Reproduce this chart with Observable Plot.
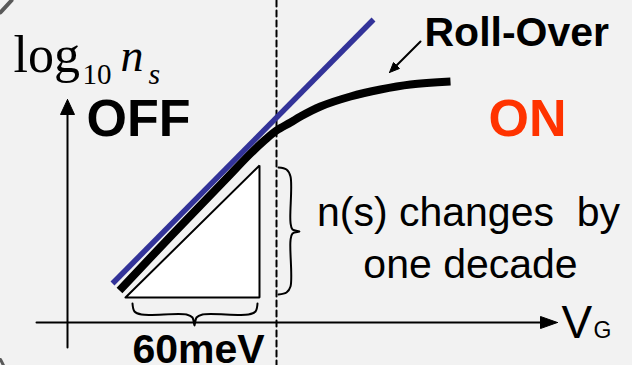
<!DOCTYPE html>
<html>
<head>
<meta charset="utf-8">
<script src="https://cdn.jsdelivr.net/npm/d3@7"></script>
<script src="https://cdn.jsdelivr.net/npm/@observablehq/plot@0.6"></script>
<style>
  html, body { margin: 0; padding: 0; background: #f2f2f2; }
  svg text { white-space: pre; }
</style>
</head>
<body>
<div id="chart"></div>
<script>
// ---- data (picture units: x to the right, y downward) ----
const idealX = [112, 373];            // ideal 60 mV/dec slope line (blue)
const idealY = [283, 19];
const realX = [119, 170, 224, 250, 265, 276, 290, 300, 320, 350, 380, 410, 450]; // real curve (black)
const realY = [290, 236, 180, 153, 139, 130, 122, 116, 106, 96, 89, 84, 81];
const triX = [125, 259, 259, 125];    // 60 meV / one decade triangle
const triY = [297, 297, 165, 297];
const dashX = [276, 276];             // threshold
const dashY = [0, 365];
const yAxisX = [67, 67], yAxisY = [347, 112];
const yHeadX = [67, 60, 74, 67], yHeadY = [99, 114, 114, 99];
const xAxisX = [36, 542], xAxisY = [322, 322];
const xHeadX = [557, 540, 540, 557], xHeadY = [322, 316, 328, 322];
const rollX = [420, 395], rollY = [41, 66];
const rollHeadX = [389, 399, 393, 389], rollHeadY = [72, 68, 62, 72];
const braceRX = [278, 286, 290, 290, 292, 299, 292, 290, 290, 286, 278];
const braceRY = [167, 169, 176, 222, 229, 231, 233, 240, 286, 292, 294];
const braceBX = [132, 134, 141, 186, 192, 194, 196, 202, 248, 255, 257];
const braceBY = [303, 311, 314, 314, 317, 325, 317, 314, 314, 311, 303];
const cornerTLX = [0, 11], cornerTLY = [12, 0];
const cornerBLX = [0, 3], cornerBLY = [359, 365];

const sansLabels = [
  {text: "OFF", x: 86, y: 135, size: 52, weight: "bold", color: "#000000", anchor: "start"},
  {text: "ON", x: 488, y: 135, size: 52, weight: "bold", color: "#ff3300", anchor: "start"},
  {text: "Roll-Over", x: 424, y: 45, size: 41, weight: "bold", color: "#000000", anchor: "start"},
  {text: "n(s) changes  by", x: 468, y: 225, size: 41, weight: "normal", color: "#000000", anchor: "middle"},
  {text: "one decade", x: 470, y: 277, size: 41, weight: "normal", color: "#000000", anchor: "middle"},
  {text: "60meV", x: 198, y: 362, size: 41, weight: "bold", color: "#000000", anchor: "middle"},
  {text: "V", x: 561, y: 337, size: 46, weight: "normal", color: "#000000", anchor: "start"},
  {text: "G", x: 593, y: 337, size: 23, weight: "normal", color: "#000000", anchor: "start"}
];
const serifLabels = [
  {text: "log", x: 13, y: 71, size: 52, style: "normal"},
  {text: "10", x: 82, y: 83, size: 29, style: "normal"},
  {text: "n", x: 120, y: 70, size: 46, style: "italic"},
  {text: "s", x: 148, y: 83, size: 30, style: "italic"}
];

const pts = (xs, ys) => xs.map((x, i) => ({x, y: ys[i]}));

const chart = Plot.plot({
  width: 632,
  height: 365,
  margin: 0,
  x: {domain: [0, 632], axis: null},
  y: {domain: [365, 0], axis: null},
  style: {background: "#f2f2f2", overflow: "visible"},
  marks: [
    Plot.line(pts(cornerTLX, cornerTLY), {x: "x", y: "y", stroke: "#5a5a5a", strokeWidth: 4}),
    Plot.line(pts(cornerBLX, cornerBLY), {x: "x", y: "y", stroke: "#5a5a5a", strokeWidth: 3}),
    Plot.line(pts(dashX, dashY), {x: "x", y: "y", stroke: "#000", strokeWidth: 2, strokeDasharray: "6,4"}),
    Plot.line(pts(yAxisX, yAxisY), {x: "x", y: "y", stroke: "#000", strokeWidth: 2}),
    Plot.line(pts(yHeadX, yHeadY), {x: "x", y: "y", fill: "#000", stroke: "#000", strokeWidth: 1}),
    Plot.line(pts(xAxisX, xAxisY), {x: "x", y: "y", stroke: "#000", strokeWidth: 2}),
    Plot.line(pts(xHeadX, xHeadY), {x: "x", y: "y", fill: "#000", stroke: "#000", strokeWidth: 1}),
    Plot.line(pts(triX, triY), {x: "x", y: "y", fill: "#ffffff", stroke: "#000", strokeWidth: 2, strokeLinejoin: "miter"}),
    Plot.line(pts(braceRX, braceRY), {x: "x", y: "y", stroke: "#000", strokeWidth: 2, curve: "catmull-rom"}),
    Plot.line(pts(braceBX, braceBY), {x: "x", y: "y", stroke: "#000", strokeWidth: 2, curve: "catmull-rom"}),
    Plot.line(pts(realX, realY), {x: "x", y: "y", stroke: "#000", strokeWidth: 8, strokeLinecap: "butt", curve: "catmull-rom"}),
    Plot.line(pts(idealX, idealY), {x: "x", y: "y", stroke: "#333399", strokeWidth: 5.5, strokeLinecap: "butt"}),
    Plot.line(pts(rollX, rollY), {x: "x", y: "y", stroke: "#000", strokeWidth: 2}),
    Plot.line(pts(rollHeadX, rollHeadY), {x: "x", y: "y", fill: "#000", stroke: "#000", strokeWidth: 1}),
    ...sansLabels.map(d => Plot.text([d], {
      x: "x", y: "y", text: "text", fill: d.color, fontSize: d.size, fontWeight: d.weight,
      fontFamily: "Liberation Sans, Arial, sans-serif", textAnchor: d.anchor, lineAnchor: "bottom"
    })),
    ...serifLabels.map(d => Plot.text([d], {
      x: "x", y: "y", text: "text", fill: "#000", fontSize: d.size, fontStyle: d.style,
      fontFamily: "Liberation Serif, Times New Roman, serif", textAnchor: "start", lineAnchor: "bottom"
    }))
  ]
});
document.getElementById("chart").appendChild(chart);
</script>
</body>
</html>
